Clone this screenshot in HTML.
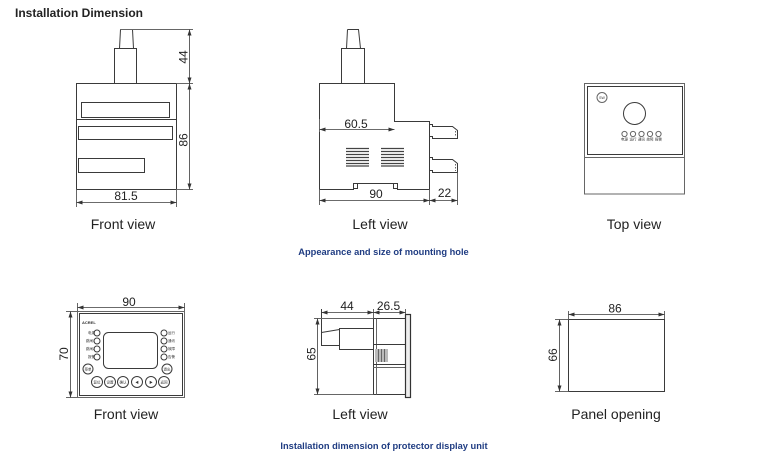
<!DOCTYPE html>
<html><head><meta charset="utf-8">
<style>
html,body{margin:0;padding:0;background:#fff;}
svg{display:block;}
text{font-family:"Liberation Sans","Noto Sans CJK SC",sans-serif;fill:#222;}
.ln{stroke:#3a3a3a;stroke-width:1;fill:none;}
.lg{stroke:#666;stroke-width:1;fill:none;}
.dim{stroke:#3a3a3a;stroke-width:0.8;fill:none;marker-start:url(#ar);marker-end:url(#ar);}
.n{font-size:12px;}
.v{font-size:14px;}
.cap{font-size:9.3px;font-weight:bold;fill:#1f3c82;}
.t{font-size:3.5px;fill:#333;}
</style></head><body>
<svg width="770" height="458" viewBox="0 0 770 458" xmlns="http://www.w3.org/2000/svg">
<defs>
<marker id="ar" viewBox="0 0 6 4" refX="6" refY="2" markerWidth="6" markerHeight="4" markerUnits="userSpaceOnUse" orient="auto-start-reverse">
<path d="M0,0 L6,2 L0,4 z" fill="#333"/>
</marker>
</defs>

<text x="15" y="17" style="font-size:12px;font-weight:bold;fill:#222">Installation Dimension</text>

<!-- ===== Top row: Front view ===== -->
<path class="ln" d="M120.5,29.5 L119.5,48.5 M132.5,29.5 L133.5,48.5"/>
<line class="lg" x1="120" y1="29.5" x2="193" y2="29.5"/>
<rect class="ln" x="114.5" y="48.5" width="22" height="35"/>
<rect class="ln" x="76.5" y="83.5" width="100" height="106"/>
<line class="ln" x1="76.5" y1="119.5" x2="176.5" y2="119.5"/>
<rect class="ln" x="81.5" y="102.5" width="88" height="15"/>
<rect class="ln" x="78.5" y="126.5" width="94" height="13"/>
<rect class="ln" x="78.5" y="158.5" width="66" height="14"/>
<line class="lg" x1="176.5" y1="83.5" x2="193" y2="83.5"/>
<line class="lg" x1="176.5" y1="189.5" x2="193" y2="189.5"/>
<line class="dim" x1="189.5" y1="29.5" x2="189.5" y2="83.5"/>
<line class="dim" x1="189.5" y1="83.5" x2="189.5" y2="189.5"/>
<text class="n" transform="translate(187.5,57) rotate(-90)" text-anchor="middle">44</text>
<text class="n" transform="translate(187.5,140) rotate(-90)" text-anchor="middle">86</text>
<line class="lg" x1="76.5" y1="189.5" x2="76.5" y2="207"/>
<line class="lg" x1="176.5" y1="189.5" x2="176.5" y2="207"/>
<line class="dim" x1="76.5" y1="202.5" x2="176.5" y2="202.5"/>
<text class="n" x="126" y="200" text-anchor="middle">81.5</text>
<text class="v" x="123" y="229" text-anchor="middle">Front view</text>

<!-- ===== Top row: Left view ===== -->
<path class="ln" d="M347.5,29.5 L358.5,29.5 L360.5,48.5 M347.5,29.5 L346.5,48.5"/>
<rect class="ln" x="341.5" y="48.5" width="23" height="35"/>
<path class="ln" d="M319.5,83.5 H394.5 V121.5 H429.5 V189.5 H397.5 V183.5 H353.5 V189.5 H319.5 Z"/>
<rect class="ln" x="353.5" y="183.5" width="4" height="5"/>
<rect class="ln" x="393.5" y="183.5" width="4" height="5"/>
<line class="lg" x1="319.5" y1="119" x2="319.5" y2="132"/>
<line class="dim" x1="319.5" y1="129.5" x2="394.5" y2="129.5"/>
<text class="n" x="356" y="128" text-anchor="middle">60.5</text>
<g stroke="#444" stroke-width="1.3">
<line x1="346" y1="148.5" x2="369" y2="148.5"/><line x1="346" y1="151.5" x2="369" y2="151.5"/>
<line x1="346" y1="154.5" x2="369" y2="154.5"/><line x1="346" y1="157.5" x2="369" y2="157.5"/>
<line x1="346" y1="160.5" x2="369" y2="160.5"/><line x1="346" y1="163.5" x2="369" y2="163.5"/>
<line x1="346" y1="166" x2="369" y2="166"/>
<line x1="381" y1="148.5" x2="404" y2="148.5"/><line x1="381" y1="151.5" x2="404" y2="151.5"/>
<line x1="381" y1="154.5" x2="404" y2="154.5"/><line x1="381" y1="157.5" x2="404" y2="157.5"/>
<line x1="381" y1="160.5" x2="404" y2="160.5"/><line x1="381" y1="163.5" x2="404" y2="163.5"/>
<line x1="381" y1="166" x2="404" y2="166"/>
</g>
<!-- terminals -->
<path class="ln" d="M429.5,124.5 H432.5 V126.5 H452.5 L457.5,130.5 V138.5 H432.5 V136.5 H429.5"/>
<path class="ln" d="M429.5,157.5 H432.5 V159.5 H452.5 L457.5,163.5 V172.5 H432.5 V170.5 H429.5"/>
<line x1="455.5" y1="128" x2="455.5" y2="137" stroke="#666" stroke-dasharray="1.5,1.5"/>
<line x1="455.5" y1="161" x2="455.5" y2="171" stroke="#666" stroke-dasharray="1.5,1.5"/>
<line class="lg" x1="319.5" y1="189.5" x2="319.5" y2="205"/>
<line class="lg" x1="429.5" y1="189.5" x2="429.5" y2="205"/>
<line class="lg" x1="457.5" y1="172.5" x2="457.5" y2="205"/>
<line class="dim" x1="319.5" y1="200.5" x2="429.5" y2="200.5"/>
<line class="dim" x1="429.5" y1="200.5" x2="457.5" y2="200.5"/>
<text class="n" x="376" y="198" text-anchor="middle">90</text>
<text class="n" x="444.5" y="197" text-anchor="middle">22</text>
<text class="v" x="380" y="229" text-anchor="middle">Left view</text>

<!-- ===== Top row: Top view ===== -->
<rect class="lg" x="584.5" y="83.5" width="100" height="110.5"/>
<rect class="ln" x="587.5" y="86.5" width="95" height="68"/>
<line class="lg" x1="584.5" y1="157.5" x2="684.5" y2="157.5"/>
<circle class="lg" cx="602" cy="97.5" r="5"/>
<text class="t" x="602" y="99" text-anchor="middle">SW</text>
<circle class="ln" cx="634.5" cy="113.5" r="11"/>
<g class="lg">
<circle cx="624.5" cy="134" r="2.6"/><circle cx="633" cy="134" r="2.6"/><circle cx="641.5" cy="134" r="2.6"/><circle cx="650" cy="134" r="2.6"/><circle cx="658.5" cy="134" r="2.6"/>
</g>
<text class="t" x="624.5" y="140.5" text-anchor="middle">电源</text>
<text class="t" x="633" y="140.5" text-anchor="middle">运行</text>
<text class="t" x="641.5" y="140.5" text-anchor="middle">通讯</text>
<text class="t" x="650" y="140.5" text-anchor="middle">故障</text>
<text class="t" x="658.5" y="140.5" text-anchor="middle">报警</text>
<text class="v" x="634" y="229" text-anchor="middle">Top view</text>

<text class="cap" x="383.5" y="255" text-anchor="middle">Appearance and size of mounting hole</text>

<!-- ===== Bottom row: Front view ===== -->
<rect class="lg" x="77.5" y="311.5" width="107" height="86"/>
<rect class="ln" x="79.5" y="313.5" width="103" height="82"/>
<rect class="ln" x="103.5" y="332.5" width="54" height="36" rx="5"/>
<text x="82" y="324" style="font-size:4px;font-weight:bold;fill:#333">ACREL</text>
<g class="ln">
<circle cx="97" cy="333" r="3"/><circle cx="97" cy="341" r="3"/><circle cx="97" cy="349" r="3"/><circle cx="97" cy="357" r="3"/>
<circle cx="164" cy="333" r="3"/><circle cx="164" cy="341" r="3"/><circle cx="164" cy="349" r="3"/><circle cx="164" cy="357" r="3"/>
<circle cx="88" cy="369" r="5"/><circle cx="167" cy="369" r="5"/>
<circle cx="97" cy="382" r="5.5"/><circle cx="110" cy="382" r="5.5"/><circle cx="123" cy="382" r="5.5"/><circle cx="137" cy="382" r="5.5"/><circle cx="151" cy="382" r="5.5"/><circle cx="164" cy="382" r="5.5"/>
</g>
<text class="t" x="88" y="334">电源</text><text class="t" x="86" y="342">跳闸1</text><text class="t" x="86" y="350">跳闸2</text><text class="t" x="88" y="358">报警</text>
<text class="t" x="168" y="334">运行</text><text class="t" x="168" y="342">通讯</text><text class="t" x="168" y="350">故障</text><text class="t" x="168" y="358">告警</text>
<text class="t" x="88" y="370.5" text-anchor="middle">菜单</text><text class="t" x="167" y="370.5" text-anchor="middle">退出</text>
<text class="t" x="97" y="383.5" text-anchor="middle">复位</text><text class="t" x="110" y="383.5" text-anchor="middle">设置</text>
<text class="t" x="123" y="383.5" text-anchor="middle">确认</text><text class="t" x="137" y="383.5" text-anchor="middle">◀</text>
<text class="t" x="151" y="383.5" text-anchor="middle">▶</text><text class="t" x="164" y="383.5" text-anchor="middle">返回</text>
<line class="lg" x1="77.5" y1="303" x2="77.5" y2="311"/>
<line class="lg" x1="184.5" y1="303" x2="184.5" y2="311"/>
<line class="dim" x1="77.5" y1="307.5" x2="184.5" y2="307.5"/>
<text class="n" x="129" y="306" text-anchor="middle">90</text>
<line class="lg" x1="66" y1="311.5" x2="77.5" y2="311.5"/>
<line class="lg" x1="66" y1="397.5" x2="77.5" y2="397.5"/>
<line class="dim" x1="70.5" y1="311.5" x2="70.5" y2="397.5"/>
<text class="n" transform="translate(68,354) rotate(-90)" text-anchor="middle">70</text>
<text class="v" x="126" y="419" text-anchor="middle">Front view</text>

<!-- ===== Bottom row: Left view ===== -->
<path class="ln" d="M321.5,309 V345.5 H339.5 M321.5,332.5 L339.5,329.5"/>
<rect class="ln" x="339.5" y="328.5" width="34" height="21"/>
<rect class="ln" x="373.5" y="318.5" width="32" height="76"/>
<line class="lg" x1="376.5" y1="318.5" x2="376.5" y2="394.5"/>
<line class="ln" x1="373.5" y1="344.5" x2="405.5" y2="344.5"/>
<line class="ln" x1="373.5" y1="364.5" x2="405.5" y2="364.5"/>
<line class="lg" x1="373.5" y1="367.5" x2="405.5" y2="367.5"/>
<rect x="375" y="349" width="13" height="13" fill="#bbb"/>
<g stroke="#666" stroke-width="1"><line x1="378.5" y1="349" x2="378.5" y2="362"/><line x1="381.5" y1="349" x2="381.5" y2="362"/><line x1="384.5" y1="349" x2="384.5" y2="362"/></g>
<rect x="405.5" y="314.5" width="5" height="83" fill="#eee" stroke="#333" stroke-width="1.2"/>
<line class="lg" x1="314" y1="318.5" x2="373.5" y2="318.5"/>
<line class="lg" x1="314" y1="394.5" x2="373.5" y2="394.5"/>
<line class="lg" x1="373.5" y1="309" x2="373.5" y2="318"/>
<line class="lg" x1="405.5" y1="309" x2="405.5" y2="314"/>
<line class="dim" x1="321.5" y1="312.5" x2="373.5" y2="312.5"/>
<line class="dim" x1="373.5" y1="312.5" x2="405.5" y2="312.5"/>
<text class="n" x="347" y="310" text-anchor="middle">44</text>
<text class="n" x="388.5" y="310" text-anchor="middle">26.5</text>
<line class="dim" x1="317.5" y1="318.5" x2="317.5" y2="394.5"/>
<text class="n" transform="translate(315.5,354) rotate(-90)" text-anchor="middle">65</text>
<text class="v" x="360" y="419" text-anchor="middle">Left view</text>

<!-- ===== Bottom row: Panel opening ===== -->
<rect class="ln" x="568.5" y="319.5" width="96" height="72"/>
<line class="lg" x1="568.5" y1="311" x2="568.5" y2="319"/>
<line class="lg" x1="664.5" y1="311" x2="664.5" y2="319"/>
<line class="dim" x1="568.5" y1="314.5" x2="664.5" y2="314.5"/>
<text class="n" x="615" y="312.5" text-anchor="middle">86</text>
<line class="lg" x1="555" y1="319.5" x2="568.5" y2="319.5"/>
<line class="lg" x1="555" y1="391.5" x2="568.5" y2="391.5"/>
<line class="dim" x1="559.5" y1="319.5" x2="559.5" y2="391.5"/>
<text class="n" transform="translate(557,355) rotate(-90)" text-anchor="middle">66</text>
<text class="v" x="616" y="419" text-anchor="middle">Panel opening</text>

<text class="cap" x="384" y="449" text-anchor="middle">Installation dimension of protector display unit</text>
</svg>
</body></html>
